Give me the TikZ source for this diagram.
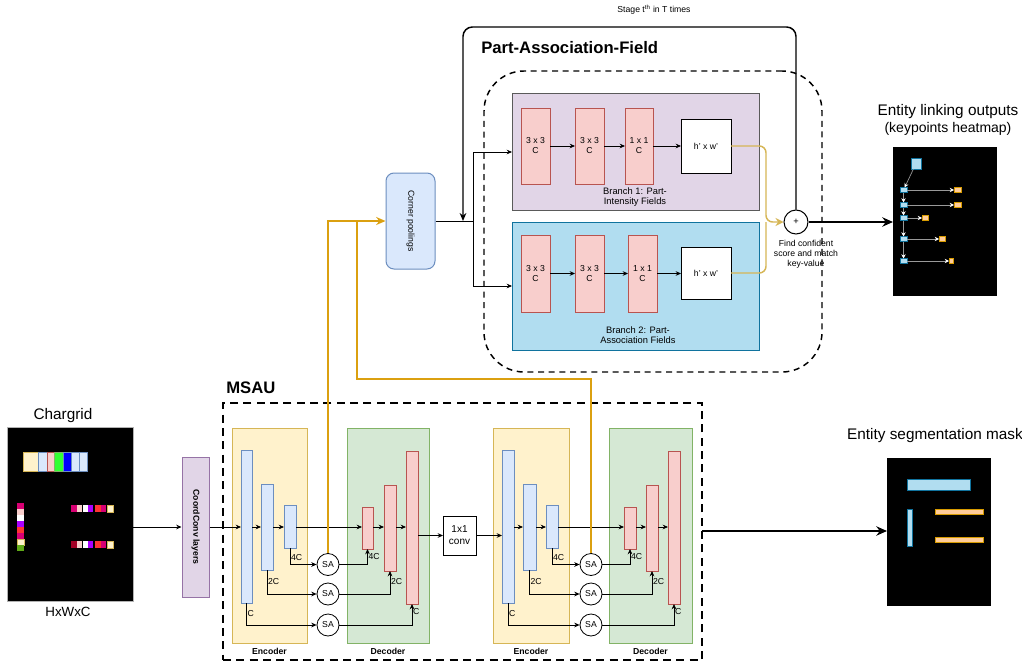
\documentclass[tikz,border=0pt]{standalone}
\usepackage{fontspec}
\setmainfont{Liberation Sans}
\usetikzlibrary{arrows.meta}
\definecolor{pfill}{HTML}{E1D5E7}
\definecolor{pstroke}{HTML}{9673A6}
\definecolor{bfill}{HTML}{B1DDF0}
\definecolor{bstroke}{HTML}{10739E}
\definecolor{rfill}{HTML}{F8CECC}
\definecolor{rstroke}{HTML}{B85450}
\definecolor{lbfill}{HTML}{DAE8FC}
\definecolor{lbstroke}{HTML}{6C8EBF}
\definecolor{yfill}{HTML}{FFF2CC}
\definecolor{ystroke}{HTML}{D6B656}
\definecolor{gfill}{HTML}{D5E8D4}
\definecolor{gstroke}{HTML}{82B366}
\definecolor{ofill}{HTML}{FFCC99}
\definecolor{ostroke}{HTML}{D79B00}
\definecolor{ydark}{HTML}{DBA010}
\definecolor{brgray}{HTML}{5A5A5A}
\definecolor{cmag}{HTML}{D80073}
\definecolor{cpur}{HTML}{AA00FF}
\definecolor{cred}{HTML}{FF3333}
\definecolor{cgreen}{HTML}{60A917}
\definecolor{cbgreen}{HTML}{33FF33}
\definecolor{cblue}{HTML}{0000FF}
\definecolor{cdred}{HTML}{A20025}
\newcommand{\placebox}[7]{\node[bx,#6,minimum width={(#4-#2)*0.75pt},minimum height={(#5-#3)*0.75pt}] (#1) at ({(#2+#4)/2},{(#3+#5)/2}) {#7};}
\tikzset{
  bx/.style={draw, inner sep=0pt, outer sep=0pt, line width=0.75pt, align=center},
  f6/.style={font=\fontsize{6}{7.2}\selectfont},
  f65/.style={font=\fontsize{6.5}{7.5}\selectfont},
  f7/.style={font=\fontsize{7}{8}\selectfont},
  f75/.style={font=\fontsize{7.5}{9}\selectfont},
  f65b/.style={font=\bfseries\fontsize{6.5}{7.5}\selectfont},
  ttl/.style={font=\bfseries\fontsize{12.5}{15}\selectfont, inner sep=0pt},
  t11/.style={font=\fontsize{11.5}{13}\selectfont},
  t105/.style={font=\fontsize{10.5}{12}\selectfont},
  t10/.style={font=\fontsize{10}{12}\selectfont},
  redbox/.style={fill=rfill, draw=rstroke, f65},
  whitebox/.style={fill=white, draw=black, f65},
  bluebar/.style={fill=lbfill, draw=lbstroke},
  redbar/.style={fill=rfill, draw=rstroke},
  kpb/.style={fill=bfill, draw=bstroke, line width=0.5pt},
  kpo/.style={fill=ofill, draw=ostroke, line width=0.5pt},
  sacirc/.style={circle, draw, fill=white, minimum size=16.5pt, inner sep=0pt, line width=0.6pt, f65},
  thinline/.style={draw=black, line width=0.6pt},
  thinarr/.style={draw=black, line width=0.6pt, -{Stealth[length=4pt,width=3.5pt]}},
  sklbl/.style={f65, anchor=west, inner sep=0.5pt},
  ylt/.style={draw=ystroke, line width=1.1pt},
  ydk/.style={draw=ydark, line width=1.5pt},
  bigarr/.style={draw=black, line width=1.5pt, -{Stealth[length=8pt,width=7pt]}},
  kparr/.style={draw=gray!80, line width=0.5pt, -{Stealth[length=3.2pt,width=3.2pt,color=white]}},
}
\begin{document}
\begin{tikzpicture}[x=0.75pt,y=-0.75pt]
\path[use as bounding box, fill=white] (0,0) rectangle (1022,664);

% ---------------- Part-Association-Field ----------------
\node[f65] (stage) at (654,10) {Stage t\textsuperscript{th} in T times};
\node[ttl, anchor=west] (paft) at (481,48) {Part-Association-Field};
\placebox{pafr}{484}{71}{822}{372}{draw=black, fill=none, rounded corners=30pt, line width=1.1pt, dash pattern=on 4.5pt off 3.5pt}{}

\placebox{br1}{512}{93}{759}{210}{fill=pfill, draw=brgray}{}
\placebox{br2}{512}{222}{759}{350}{fill=bfill, draw=bstroke}{}

\placebox{r11}{521}{108}{550}{184}{redbox}{3 x 3\\C}
\placebox{r12}{575}{108}{604}{184}{redbox}{3 x 3\\C}
\placebox{r13}{625}{108}{653}{184}{redbox}{1 x 1\\C}
\placebox{hw1}{681}{119}{731}{173}{whitebox}{h' x w'}
\placebox{r21}{521}{235}{550}{312}{redbox}{3 x 3\\C}
\placebox{r22}{575}{235}{604}{312}{redbox}{3 x 3\\C}
\placebox{r23}{628}{235}{657}{312}{redbox}{1 x 1\\C}
\placebox{hw2}{681}{247}{731}{299}{whitebox}{h' x w'}

\draw[thinarr] (r11) -- (r12);
\draw[thinarr] (r12) -- (r13);
\draw[thinarr] (r13) -- (hw1.west |- r13);
\draw[thinarr] (r21) -- (r22);
\draw[thinarr] (r22) -- (r23);
\draw[thinarr] (r23) -- (hw2.west |- r23);

\node[f7, align=center] (b1l) at (635,197) {Branch 1: Part-\\Intensity Fields};
\node[f7, align=center] (b2l) at (638,335) {Branch 2: Part-\\Association Fields};

\node[circle, draw, fill=white, minimum size=18pt, inner sep=0pt, line width=0.75pt, f7] (plus) at (796,222) {+};
\node[f65, align=center] (find) at (806,254) {Find confident\\score and match\\key-value};

\coordinate (jy) at (766,222);
\draw[ylt, rounded corners=5pt, -{Stealth[length=6pt,width=6pt]}] (hw1.east) -- (766,146) -- (jy) -- (plus);
\draw[ylt, rounded corners=5pt] (hw2.east) -- (766,273) -- (jy);

\coordinate (rtop) at (796,27);
\coordinate (ltop) at (463,27);
\coordinate (lend) at (463,221);
\draw[line width=1.1pt, rounded corners=7pt, -{Stealth[length=6pt,width=5pt]}] (plus.north) -- (rtop) -- (ltop) -- (lend);

\node[rotate=-90, draw=lbstroke, fill=lbfill, rounded corners=6pt, minimum width={96*0.75pt}, minimum height={49*0.75pt}, inner sep=0pt, line width=0.75pt, f65] (cp) at (410.5,221) {Corner poolings};
\coordinate (jn) at (473,221);
\draw[thinline] (cp) -- (jn);
\draw[thinarr] (jn) |- (br1.west |- 0,152);
\draw[thinarr] (jn) |- (br2.west |- 0,286);

% ---------------- Entity linking outputs ----------------
\node[t11] (lt1) at (948,112) {Entity linking outputs};
\node[t105] (lt2) at (948,129) {(keypoints heatmap)};
\placebox{link}{893}{147}{996}{295}{fill=black, draw=black}{}
\draw[bigarr] (plus) -- (link.west |- plus);

\placebox{kb}{911}{158}{921}{169}{kpb}{}
\placebox{k1}{900}{187.5}{907}{192.5}{kpb}{}
\placebox{k2}{900}{202.5}{907}{207.5}{kpb}{}
\placebox{k3}{900}{215.5}{907}{220.5}{kpb}{}
\placebox{k4}{900}{236.5}{907}{241.5}{kpb}{}
\placebox{k5}{900}{258.5}{907}{263.5}{kpb}{}
\placebox{o1}{954}{187.5}{961}{192.5}{kpo}{}
\placebox{o2}{954}{202.5}{961}{207.5}{kpo}{}
\placebox{o3}{922}{215.5}{928}{220.5}{kpo}{}
\placebox{o4}{939}{236.5}{945}{241.5}{kpo}{}
\placebox{o5}{949}{258.5}{953}{263.5}{kpo}{}
\draw[kparr] (kb) -- (k1);
\draw[kparr] (k1) -- (k2);
\draw[kparr] (k2) -- (k3);
\draw[kparr] (k3) -- (k4);
\draw[kparr] (k4) -- (k5);
\draw[kparr] (k1) -- (o1);
\draw[kparr] (k2) -- (o2);
\draw[kparr] (k3) -- (o3);
\draw[kparr] (k4) -- (o4);
\draw[kparr] (k5) -- (o5);

% ---------------- Chargrid ----------------
\node[t11] (cgt) at (63,416) {Chargrid};
\placebox{cg}{7}{427}{133}{601}{fill=black, draw=gray!60}{}
\node[t10] (cgs) at (68,612) {HxWxC};
\begin{scope}[line width=0.4pt]
\filldraw[fill=yfill, draw=ystroke] (23,452) rectangle (38,471);
\filldraw[fill=lbfill, draw=lbstroke] (38,452) rectangle (47,471);
\filldraw[fill=rfill, draw=rstroke] (47,452) rectangle (54,471);
\filldraw[fill=cbgreen, draw=gstroke] (54,452) rectangle (63,471);
\filldraw[fill=cblue, draw=lbstroke] (63,452) rectangle (71,471);
\filldraw[fill=lbfill, draw=lbstroke] (71,452) rectangle (79,471);
\filldraw[fill=lbfill, draw=lbstroke] (79,452) rectangle (87,471);
% vertical strip
\fill[cmag] (17,503) rectangle (24,509);
\fill[rfill] (17,509) rectangle (24,515);
\fill[white] (17,515) rectangle (24,521);
\fill[cpur] (17,521) rectangle (24,527);
\fill[cred] (17,527) rectangle (24,533);
\fill[cmag] (17,533) rectangle (24,539);
\filldraw[fill=yfill, draw=ystroke] (17,539) rectangle (24,545);
\fill[cgreen] (17,545) rectangle (24,551);
% row 1
\fill[cmag] (71,505) rectangle (77,512);
\fill[rfill] (77,505) rectangle (82,512);
\fill[white] (83,505) rectangle (88,512);
\fill[cpur] (88,505) rectangle (93,512);
\fill[cred] (95,505) rectangle (101,512);
\fill[cmag] (101,505) rectangle (106,512);
\filldraw[fill=yfill, draw=ystroke] (107,505) rectangle (113,512);
% row 2
\fill[cdred] (71,541) rectangle (77,548);
\fill[rfill] (77,541) rectangle (82,548);
\fill[white] (83,541) rectangle (88,548);
\fill[cpur] (88,541) rectangle (93,548);
\fill[cred] (95,541) rectangle (101,548);
\fill[cmag] (101,541) rectangle (106,548);
\filldraw[fill=yfill, draw=ystroke] (107,541) rectangle (113,548);
\end{scope}

\node[rotate=-90, draw=pstroke, fill=pfill, minimum width={140*0.75pt}, minimum height={27*0.75pt}, inner sep=0pt, line width=0.75pt, f65b] (cc) at (195.5,527) {CoordConv layers};
\draw[thinarr] (cg.east |- cc) -- (cc);

% ---------------- MSAU ----------------
\placebox{msau}{223}{403}{702}{660}{draw=black, fill=none, line width=1.5pt, dash pattern=on 6pt off 4pt}{}
\node[ttl, anchor=west] (msaut) at (226,388) {MSAU};

\placebox{enc1}{232}{428}{307}{643}{fill=yfill, draw=ystroke}{}
\placebox{dec1}{347}{428}{429}{643}{fill=gfill, draw=gstroke}{}
\placebox{enc2}{493}{428}{569}{643}{fill=yfill, draw=ystroke}{}
\placebox{dec2}{609}{428}{692}{643}{fill=gfill, draw=gstroke}{}
\node[f65b] (enc1l) at (269.5,651) {Encoder};
\node[f65b] (dec1l) at (388,651) {Decoder};
\node[f65b] (enc2l) at (531,651) {Encoder};
\node[f65b] (dec2l) at (650.5,651) {Decoder};

\placebox{e1a}{241}{450}{252}{603}{bluebar}{}
\placebox{e1b}{261}{484}{273}{570}{bluebar}{}
\placebox{e1c}{284}{505}{296}{548}{bluebar}{}
\placebox{d1a}{362}{507}{373}{549}{redbar}{}
\placebox{d1b}{384}{485}{396}{571}{redbar}{}
\placebox{d1c}{406}{451}{418}{604}{redbar}{}
\placebox{e2a}{502}{450}{514}{603}{bluebar}{}
\placebox{e2b}{523}{484}{536}{570}{bluebar}{}
\placebox{e2c}{546}{505}{558}{548}{bluebar}{}
\placebox{d2a}{624}{507}{636}{549}{redbar}{}
\placebox{d2b}{646}{485}{658}{571}{redbar}{}
\placebox{d2c}{668}{451}{680}{604}{redbar}{}

\placebox{conv}{443}{516}{476}{555}{fill=white, draw=black, f75}{1x1\\conv}

\node[sacirc] (sa1a) at (328,564.5) {SA};
\node[sacirc] (sa1b) at (328,594) {SA};
\node[sacirc] (sa1c) at (328,625) {SA};
\node[sacirc] (sa2a) at (591,564.5) {SA};
\node[sacirc] (sa2b) at (591,594) {SA};
\node[sacirc] (sa2c) at (591,625) {SA};

% main chain
\draw[thinarr] (cc) -- (e1a.west |- cc);
\draw[thinarr] (e1a.east |- cc) -- (e1b.west |- cc);
\draw[thinarr] (e1b.east |- cc) -- (e1c.west |- cc);
\draw[thinarr] (e1c.east |- cc) -- (d1a.west |- cc);
\draw[thinarr] (d1a.east |- cc) -- (d1b.west |- cc);
\draw[thinarr] (d1b.east |- cc) -- (d1c.west |- cc);
\draw[thinarr] (d1c.east |- conv) -- (conv);
\draw[thinarr] (conv) -- (e2a.west |- conv);
\draw[thinarr] (e2a.east |- cc) -- (e2b.west |- cc);
\draw[thinarr] (e2b.east |- cc) -- (e2c.west |- cc);
\draw[thinarr] (e2c.east |- cc) -- (d2a.west |- cc);
\draw[thinarr] (d2a.east |- cc) -- (d2b.west |- cc);
\draw[thinarr] (d2b.east |- cc) -- (d2c.west |- cc);

% skip connections unit 1
\draw[thinarr] (e1c.south) |- node[sklbl, pos=0.3] {4C} (sa1a);
\draw[thinarr] (sa1a) -| node[sklbl, pos=0.77] {4C} (d1a.south);
\draw[thinarr] (e1b.south) |- node[sklbl, pos=0.23] {2C} (sa1b);
\draw[thinarr] (sa1b) -| node[sklbl, pos=0.78] {2C} (d1b.south);
\draw[thinarr] (e1a.south) |- node[sklbl, pos=0.25] {C} (sa1c);
\draw[thinarr] (sa1c) -| node[sklbl, pos=0.81] {C} (d1c.south);
% skip connections unit 2
\draw[thinarr] (e2c.south) |- node[sklbl, pos=0.3] {4C} (sa2a);
\draw[thinarr] (sa2a) -| node[sklbl, pos=0.77] {4C} (d2a.south);
\draw[thinarr] (e2b.south) |- node[sklbl, pos=0.23] {2C} (sa2b);
\draw[thinarr] (sa2b) -| node[sklbl, pos=0.78] {2C} (d2b.south);
\draw[thinarr] (e2a.south) |- node[sklbl, pos=0.25] {C} (sa2c);
\draw[thinarr] (sa2c) -| node[sklbl, pos=0.81] {C} (d2c.south);

% yellow connectors to corner poolings
\draw[ydk, -{Stealth[length=7pt,width=6pt]}] (sa1a) -- (sa1a |- cp) -- (cp);
\coordinate (ya) at (357,379);
\coordinate (yb) at (357,221);
\draw[ydk] (sa2a) -- (sa2a |- ya) -- (ya) -- (yb);

% ---------------- Entity segmentation mask ----------------
\node[t11] (segt) at (935,436) {Entity segmentation mask};
\placebox{seg}{887}{458}{990}{605}{fill=black, draw=black}{}
\filldraw[fill=bfill, draw=bstroke, line width=0.5pt] (907,479) rectangle (970,490);
\filldraw[fill=bfill, draw=bstroke, line width=0.5pt] (907,509) rectangle (912,546);
\filldraw[fill=ofill, draw=ostroke, line width=0.5pt] (935,509) rectangle (983,514);
\filldraw[fill=ofill, draw=ostroke, line width=0.5pt] (935,537) rectangle (983,542);
\draw[bigarr] (msau.east |- 0,531) -- (seg.west |- 0,531);
\end{tikzpicture}
\end{document}
